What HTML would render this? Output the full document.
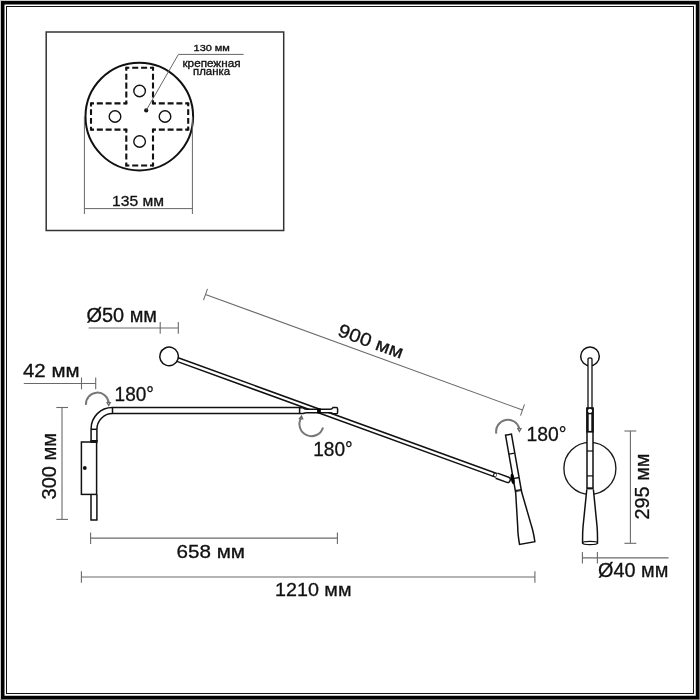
<!DOCTYPE html>
<html><head><meta charset="utf-8">
<style>
html,body{margin:0;padding:0;background:#fff;width:700px;height:700px;overflow:hidden}
svg{display:block;will-change:transform}
text{font-family:"Liberation Sans",sans-serif;fill:#111;stroke:#111;stroke-width:0.3px}
</style></head><body>
<svg width="700" height="700" viewBox="0 0 700 700">
<rect x="0" y="0" width="700" height="700" fill="#fff"/>
<!-- page border -->
<rect x="0" y="0" width="700" height="1" fill="#c8c8c8"/>
<rect x="0" y="0" width="1" height="700" fill="#c8c8c8"/>
<rect x="0" y="699" width="700" height="1" fill="#9a9a9a"/>
<rect x="699" y="0" width="1" height="700" fill="#9a9a9a"/>
<rect x="2.75" y="2.75" width="694.75" height="694.75" fill="none" stroke="#000" stroke-width="3.5"/>
<rect x="6.5" y="6.5" width="687" height="687" fill="none" stroke="#111" stroke-width="1"/>

<!-- inset box -->
<rect x="46.2" y="32" width="237.5" height="198.5" fill="none" stroke="#333" stroke-width="1.5"/>
<g fill="none" stroke="#111">
  <circle cx="139.3" cy="116.6" r="53.8" stroke-width="2"/>
  
  <circle cx="139.6" cy="91" r="5.8" stroke-width="1.4"/>
  <circle cx="115" cy="116.5" r="5.8" stroke-width="1.4"/>
  <circle cx="165" cy="116.5" r="5.8" stroke-width="1.4"/>
  <circle cx="139.6" cy="141.5" r="5.8" stroke-width="1.4"/>
</g>
<g fill="none" stroke="#111" stroke-width="2.1" stroke-linecap="butt">
  <path d="M126.3,67.8 L153.0,67.8" stroke-dasharray="6.05 2.85" stroke-dashoffset="3.03"/>
  <path d="M153.0,67.8 L153.0,103.4" stroke-dasharray="6.05 2.85" stroke-dashoffset="3.03"/>
  <path d="M153.0,103.4 L188.2,103.4" stroke-dasharray="5.98 2.82" stroke-dashoffset="2.99"/>
  <path d="M188.2,103.4 L188.2,129.6" stroke-dasharray="5.94 2.79" stroke-dashoffset="2.97"/>
  <path d="M188.2,129.6 L153.0,129.6" stroke-dasharray="5.98 2.82" stroke-dashoffset="2.99"/>
  <path d="M153.0,129.6 L153.0,165.5" stroke-dasharray="6.10 2.87" stroke-dashoffset="3.05"/>
  <path d="M153.0,165.5 L126.3,165.5" stroke-dasharray="6.05 2.85" stroke-dashoffset="3.03"/>
  <path d="M126.3,165.5 L126.3,129.6" stroke-dasharray="6.10 2.87" stroke-dashoffset="3.05"/>
  <path d="M126.3,129.6 L91.0,129.6" stroke-dasharray="6.00 2.82" stroke-dashoffset="3.00"/>
  <path d="M91.0,129.6 L91.0,103.4" stroke-dasharray="5.94 2.79" stroke-dashoffset="2.97"/>
  <path d="M91.0,103.4 L126.3,103.4" stroke-dasharray="6.00 2.82" stroke-dashoffset="3.00"/>
  <path d="M126.3,103.4 L126.3,67.8" stroke-dasharray="6.05 2.85" stroke-dashoffset="3.03"/>
</g>
<g fill="#111"><rect x="125.25" y="66.75" width="2.1" height="2.1"/><rect x="151.95" y="66.75" width="2.1" height="2.1"/><rect x="151.95" y="102.35" width="2.1" height="2.1"/><rect x="187.15" y="102.35" width="2.1" height="2.1"/><rect x="187.15" y="128.55" width="2.1" height="2.1"/><rect x="151.95" y="128.55" width="2.1" height="2.1"/><rect x="151.95" y="164.45" width="2.1" height="2.1"/><rect x="125.25" y="164.45" width="2.1" height="2.1"/><rect x="125.25" y="128.55" width="2.1" height="2.1"/><rect x="89.95" y="128.55" width="2.1" height="2.1"/><rect x="89.95" y="102.35" width="2.1" height="2.1"/><rect x="125.25" y="102.35" width="2.1" height="2.1"/></g>
<circle cx="146.2" cy="110.4" r="2.1" fill="#111"/>
<polyline points="146.2,110.4 178.4,54.4 243.6,54.4" fill="none" stroke="#555" stroke-width="0.9"/>
<text x="193.6" y="51.3" font-size="9.7" textLength="36.3" lengthAdjust="spacingAndGlyphs" style="stroke-width:0.35px">130 мм</text>
<text x="182.5" y="66.6" font-size="11" textLength="58" lengthAdjust="spacingAndGlyphs" style="stroke-width:0.35px">крепежная</text>
<text x="193" y="74.6" font-size="11" textLength="37" lengthAdjust="spacingAndGlyphs" style="stroke-width:0.35px">планка</text>
<g stroke="#666" stroke-width="1" fill="none">
  <line x1="84.4" y1="116.6" x2="84.4" y2="214"/>
  <line x1="192.4" y1="116.6" x2="192.4" y2="214"/>
  <line x1="84.4" y1="208.6" x2="192.4" y2="208.6"/>
</g>
<text x="112" y="205.6" font-size="14.6" textLength="52" lengthAdjust="spacingAndGlyphs">135 мм</text>

<!-- dimension lines (gray) -->
<g stroke="#6a6a6a" stroke-width="1.1" fill="none">
  <!-- d50 -->
  <line x1="88.6" y1="328" x2="178.3" y2="328"/>
  <line x1="160.2" y1="322" x2="160.2" y2="333.8"/>
  <line x1="178.3" y1="322" x2="178.3" y2="333.8"/>
  <!-- 42 -->
  <line x1="23.8" y1="383.5" x2="95.7" y2="383.5"/>
  <line x1="81.5" y1="377.5" x2="81.5" y2="389.3"/>
  <line x1="95.7" y1="377.5" x2="95.7" y2="389.3"/>
  <!-- 300 -->
  <line x1="62" y1="407.5" x2="62" y2="519.4"/>
  <line x1="56.3" y1="407.5" x2="68" y2="407.5"/>
  <line x1="56.3" y1="519.4" x2="68" y2="519.4"/>
  <!-- 658 -->
  <line x1="90.6" y1="538.1" x2="337.4" y2="538.1"/>
  <line x1="90.6" y1="532.4" x2="90.6" y2="543.9"/>
  <line x1="337.4" y1="532.4" x2="337.4" y2="543.9"/>
  <!-- 1210 -->
  <line x1="81.4" y1="577" x2="534.9" y2="577"/>
  <line x1="81.4" y1="571.3" x2="81.4" y2="582.8"/>
  <line x1="534.9" y1="571.3" x2="534.9" y2="582.8"/>
  <!-- 295 -->
  <line x1="630.4" y1="431" x2="630.4" y2="543.3"/>
  <line x1="624.4" y1="431" x2="636.3" y2="431"/>
  <line x1="624.4" y1="543.3" x2="636.3" y2="543.3"/>
  <!-- 40 -->
  <line x1="582.2" y1="557.9" x2="668.6" y2="557.9"/>
  <line x1="582.4" y1="552.1" x2="582.4" y2="563.6"/>
  <line x1="597.4" y1="552.1" x2="597.4" y2="563.6"/>
</g>
<!-- 900 dim -->
<g stroke="#6a6a6a" stroke-width="1.05" fill="none">
  <line x1="205.5" y1="294.5" x2="522.5" y2="410"/>
  <line x1="207.5" y1="288.8" x2="203.5" y2="300.2"/>
  <line x1="524.5" y1="404.4" x2="520.5" y2="415.6"/>
</g>

<!-- texts -->
<text x="86.5" y="322.3" font-size="19.3" textLength="70.5" lengthAdjust="spacingAndGlyphs">Ø50 мм</text>
<text x="23" y="377.2" font-size="17.5" textLength="56.5" lengthAdjust="spacingAndGlyphs">42 мм</text>
<text x="114.6" y="401.3" font-size="19.4" textLength="39.3" lengthAdjust="spacingAndGlyphs">180°</text>
<text x="313.2" y="456.4" font-size="20.2" textLength="39.5" lengthAdjust="spacingAndGlyphs">180°</text>
<text x="526.6" y="441.3" font-size="20.8" textLength="40" lengthAdjust="spacingAndGlyphs">180°</text>
<text x="176.5" y="557.9" font-size="19.2" textLength="68.5" lengthAdjust="spacingAndGlyphs">658 мм</text>
<text x="275" y="595.8" font-size="19.2" textLength="76.5" lengthAdjust="spacingAndGlyphs">1210 мм</text>
<text x="598" y="577" font-size="19.3" textLength="70.3" lengthAdjust="spacingAndGlyphs">Ø40 мм</text>
<text transform="translate(56.2,499.5) rotate(-90)" font-size="21" textLength="66.5" lengthAdjust="spacingAndGlyphs">300 мм</text>
<text transform="translate(649.2,519.5) rotate(-90)" font-size="20" textLength="66" lengthAdjust="spacingAndGlyphs">295 мм</text>
<text transform="translate(336.8,335.6) rotate(20)" font-size="18.7" textLength="68" lengthAdjust="spacingAndGlyphs">900 мм</text>

<!-- rotation arrows -->
<g stroke="#777" stroke-width="2" fill="none">
  <path d="M86,404.9 A11,11 0 0 1 108.7,403.1"/>
  <path d="M301.2,417.9 A12,12 0 1 0 323,427.4"/>
  <path d="M496.3,433.6 A11.8,11.8 0 0 1 519.4,428.8"/>
</g>
<g stroke="#666" stroke-width="1.2" fill="#fff">
  <path d="M107.1,402.7 L110.3,402.7 L108.7,405.6 Z"/>
  <path d="M299.5,418.6 L302.7,418.9 L301.5,416 Z"/>
  <path d="M517.8,428.7 L521,428.7 L519.4,431.5 Z"/>
</g>

<!-- wall arm -->
<g stroke="#111" stroke-width="1.5" fill="none">
  <path d="M299.6,407.5 H112.5 A21.2,21.2 0 0 0 91.1,428.7 V441.6"/>
  <path d="M299.6,413.6 H112.5 A15.6,15.6 0 0 0 96.9,429.2 V441.6"/>
  <line x1="112.5" y1="407.5" x2="112.5" y2="413.6"/>
  <line x1="91.1" y1="429.3" x2="96.9" y2="429.3"/>
  <rect x="81.4" y="442" width="15.2" height="52.4" fill="#fff"/>
  <path d="M91,494.4 V520 H96.9 V494.4"/>
</g>
<rect x="90.4" y="440" width="7.2" height="2.8" fill="#111"/>
<circle cx="84.8" cy="468" r="1.9" fill="#111"/>
<!-- diagonal rod -->
<g transform="translate(169.1,356.4) rotate(19.97)">
  <path d="M9,-1.8 H348 M9,2.0 H348" stroke="#111" stroke-width="1.5" fill="none"/>
  <circle cx="0" cy="0" r="9.3" fill="#fff" stroke="#111" stroke-width="1.5"/>
  <!-- ring + end segment -->
  <path d="M345.5,-2.4 V2.6 M348.5,-2.4 V2.6" stroke="#111" stroke-width="1.2"/>
  <path d="M348.5,-2.4 H360.5 Q362.9,-2.4 362.9,0 V0.8 Q362.9,3 360.5,3 H348.5" stroke="#111" stroke-width="1.5" fill="#fff"/>
</g>
<!-- connector -->
<path d="M299.6,407.8 H303 Q305,409.3 307,409.3 H330 Q332,409.3 333,407.6 H336.3 Q337.6,407.6 337.6,408.9 V412.4 Q337.6,413.7 336.3,413.7 H333 Q332,412.8 330,412.8 H307 Q305,412.8 303,413.5 H299.6 Z" fill="#fff" stroke="#111" stroke-width="1.5"/>

<rect x="317.1" y="408.6" width="3.7" height="4.6" fill="#000"/>

<!-- lamp head (tilted) -->
<g transform="translate(508.5,434.7) rotate(-10)">
  <rect x="-3" y="0" width="6" height="57.5" fill="#fff" stroke="#111" stroke-width="1.5"/>
  <line x1="-3" y1="19.3" x2="3" y2="19.3" stroke="#111" stroke-width="1.3"/>
  <line x1="-3" y1="44" x2="3" y2="44" stroke="#111" stroke-width="1.3"/>
  <line x1="-3" y1="56.3" x2="3" y2="56.3" stroke="#111" stroke-width="1.2"/>
  <path d="M-2.9,57.6 L-7,93 Q-8.1,99 -8.2,110 L7.4,110 Q7.6,100 6.8,94 L2.9,57.6" fill="#fff" stroke="#111" stroke-width="1.5"/>
  <ellipse cx="-3.6" cy="44.3" rx="1.8" ry="5.3" fill="#000"/>
</g>

<!-- side view -->
<circle cx="589.9" cy="468.4" r="26" fill="none" stroke="#1a1a1a" stroke-width="1.35"/>
<circle cx="590" cy="356.4" r="9.3" fill="#fff" stroke="#111" stroke-width="1.5"/>
<path d="M588,408 V359.5 Q588,357.8 590,357.8 Q592,357.8 592,359.5 V408" fill="#fff" stroke="#111" stroke-width="1.3"/>
<rect x="587" y="408.2" width="6" height="80.8" fill="#fff" stroke="#111" stroke-width="1.5"/>
<rect x="586.3" y="407.4" width="7.4" height="25.2" fill="#111"/>
<rect x="588.7" y="414.3" width="2.6" height="16.6" fill="#fff"/>
<circle cx="590" cy="410.9" r="2.1" fill="#fff"/>
<g stroke="#111" stroke-width="1.2">
  
  <line x1="587" y1="451" x2="593" y2="451"/>
  <line x1="587" y1="475.9" x2="593" y2="475.9"/>
  <line x1="587" y1="488.3" x2="593" y2="488.3" stroke-width="2"/>
</g>
<path d="M586.8,489.5 L583,527 Q582.5,533 582.6,543 L597.5,543 Q597.6,533 597.1,527 L593.4,489.5" fill="#fff" stroke="#111" stroke-width="1.5"/>
<ellipse cx="590.05" cy="543" rx="7.4" ry="1.6" fill="#fff" stroke="#111" stroke-width="1.3"/>
</svg>
</body></html>
